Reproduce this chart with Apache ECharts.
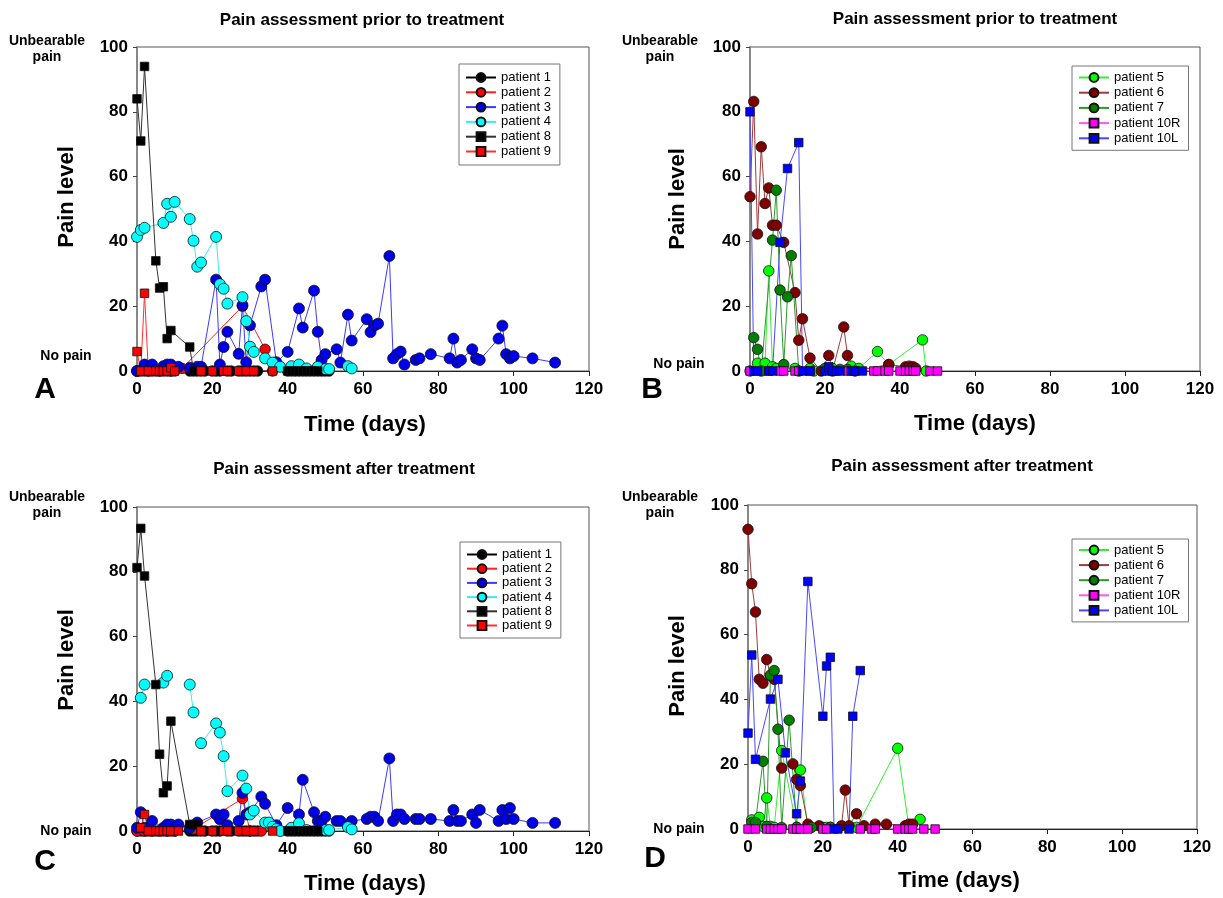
<!DOCTYPE html>
<html><head><meta charset="utf-8">
<script src="https://cdn.jsdelivr.net/npm/echarts@6/dist/echarts.min.js"></script>
<style>html,body{margin:0;padding:0;background:#fff}#c{width:1223px;height:898px}</style>
</head><body><div id="c"></div>
<script>
// ---------- Panel A: prior to treatment (patients 1,2,3,4,8,9) ----------
const A_p1 = [[0,0],[1,0],[2,0],[3,0],[4,0],[5,0],[6,0],[7,0],[8,0],[9,0],[10,0],[14,0],[15,0],[16,0],[17,0],[18,0],[20,0],[21,0],[22,0],[24,0],[25,0],[27,0],[28,0],[29,0],[30,0],[31,0],[32,0],[40,0],[41,0],[42,0],[43,0],[44,0],[45,0],[46,0],[47,0],[48,0],[49,0],[50,0],[51,0]];
const A_p2 = [[0,0],[3,0],[6,0],[9,0],[12,0.8],[28,20],[34,6.7],[36,0]];
const A_p3 = [[0,0],[2,2],[4,2],[7,1.5],[8,2],[9,2],[11,1.3],[14,1],[16,1.3],[17,1.3],[21,28.2],[22,2],[23,7.4],[24,12.1],[27,5.3],[28,20.3],[29,2.7],[30,14.1],[33,26.1],[34,28.2],[37,2.7],[40,5.9],[43,19.3],[44,13.4],[47,24.8],[48,12.1],[49,3.4],[50,5.2],[53,6.7],[54,2.6],[56,17.4],[57,9.4],[61,16],[62,12],[63,14],[64,14.6],[67,35.5],[68,3.9],[69,5.2],[70,6],[71,2],[74,3.4],[75,3.9],[78,5.2],[83,3.9],[84,10],[85,2.6],[86,3.4],[89,6.7],[90,3.9],[91,3.4],[96,10],[97,14],[98,5.2],[99,3.9],[100,4.6],[105,3.9],[111,2.6]];
const A_p4 = [[0,41.4],[1,43.5],[2,44.2],[7,45.7],[8,51.6],[9,47.6],[10,52.2],[14,46.9],[15,40.2],[16,32.2],[17,33.5],[21,41.4],[22,26.8],[23,25.4],[24,20.8],[28,22.8],[29,15.4],[30,7.5],[31,5.9],[34,3.9],[36,2.6],[38,1.3],[41,1.5],[43,2],[45,0.8],[48,1.3],[50,0.6],[51,0.6],[56,1.5],[57,0.8]];
const A_p8 = [[0,84],[1,71],[2,94],[5,34],[6,25.6],[7,26],[8,10],[9,12.5],[14,7.4],[15,0],[16,0],[17,0],[40,0],[41,0],[42,0],[43,0],[44,0],[45,0],[46,0],[47,0],[48,0]];
const A_p9 = [[0,6],[1,0],[2,24],[3,0],[5,0],[6,0],[7,0],[8,0],[9,1],[10,0],[17,0],[20,0],[23,0],[24,0],[27,0],[29,0],[31,0],[36,0]];

// ---------- Panel B: prior to treatment (patients 5,6,7,10R,10L) ----------
const B_p5 = [[0,0],[2,2.4],[4,2.4],[5,30.9],[6,1.3],[7,0.8],[12,0.8],[16,0.8],[17,0],[22,0.8],[27,1.5],[29,0.8],[34,6],[37,2],[46,9.6],[47,0]];
const B_p6 = [[0,53.8],[1,83.2],[2,42.3],[3,69.2],[4,51.7],[5,56.5],[6,45],[7,45],[9,39.7],[12,24.2],[13,9.5],[14,16.1],[16,4],[19,0],[21,4.8],[22,0],[25,13.6],[26,4.8],[28,0],[37,2],[41.5,1.3],[42.5,1.5],[43.5,1.3],[44.2,0.8]];
const B_p7 = [[1,10.3],[2,6.7],[3,0],[6,40.4],[7,55.8],[8,25],[9,2],[10,22.9],[11,35.6],[13,0],[20,0.8],[24,0.5],[26,0.5]];
const B_p10R = [[0,0],[5,0],[8,0],[9,0],[12,0],[13,0],[16,0],[26,0],[33,0],[34,0],[36,0],[37,0],[40,0],[41.5,0],[42.5,0],[43.5,0],[44.2,0],[48,0],[50,0]];
const B_p10L = [[0,80],[1,0],[2,0],[5,0],[6,0],[8,39.7],[10,62.5],[13,70.5],[14,0],[16,0],[20,0],[21,1.3],[22,0],[23,0],[24,0],[27,0],[28,0],[30,0]];

// ---------- Panel C: after treatment (patients 1,2,3,4,8,9) ----------
const C_p1 = [[0,0],[1,0],[2,0],[3,0],[4,0],[5,0],[6,0],[7,0],[8,0],[9,0],[10,0],[14,0],[15,0],[16,0],[17,0],[18,0],[20,0],[21,0],[22,0],[24,0],[25,0],[27,0],[28,0],[29,0],[30,0],[31,0],[32,0],[40,0],[41,0],[42,0],[43,0],[44,0],[45,0],[46,0],[47,0],[48,0],[49,0],[50,0],[51,0]];
const C_p2 = [[0,0],[2,0],[4,0],[6,0],[8,0],[10,0],[15,0.6],[28,10],[30,0],[33,0]];
const C_p3 = [[0,1],[1,5.8],[2,1],[4,3.1],[7,1],[8,2],[9,2],[11,2],[14,1],[16,2.6],[21,5.1],[22,3.6],[23,5.1],[24,1.8],[27,3.1],[28,11.8],[29,5.1],[30,5.8],[33,10.6],[34,8.4],[37,1.8],[40,7.1],[43,5.1],[44,15.8],[47,5.8],[48,3.1],[49,3.1],[50,4.4],[53,3.1],[54,3.1],[57,3.1],[61,3.7],[62,4.4],[63,4.4],[64,3.1],[67,22.4],[68,3.1],[69,5.1],[70,5.1],[71,3.7],[74,3.7],[75,3.7],[78,3.7],[83,3.1],[84,6.5],[85,3.1],[86,3.1],[89,5.1],[90,2.5],[91,6.5],[96,3.1],[97,6.5],[98,3.7],[99,7.1],[100,3.7],[105,2.5],[111,2.5]];
const C_p4 = [[1,41.1],[2,45.2],[7,45.8],[8,47.9],[11,null],[14,45.2],[15,36.6],[16,null],[17,27.1],[21,33.2],[22,30.4],[23,23.1],[24,12.3],[28,17.1],[29,13.1],[30,5.1],[31,6.3],[34,2.6],[35,2.6],[36,1.3],[37,0.6],[38,0],[41,1],[43,2.4],[45,0.3],[50,0.3],[51,0.3],[56,1.2],[57,0.5]];
const C_p8 = [[0,81.3],[1,93.4],[2,78.7],[5,45.2],[6,23.7],[7,11.8],[8,13.9],[9,33.9],[14,2],[15,2],[16,2],[17,0],[40,0],[41,0],[42,0],[43,0],[44,0],[45,0],[46,0],[47,0],[48,0]];
const C_p9 = [[1,1],[2,5.1],[3,0],[5,0],[6,0],[7,0],[8,0],[9,0],[11,0],[17,0],[20,0],[23,0],[24,0],[27,0],[29,0],[31,0],[36,0]];

// ---------- Panel D: after treatment (patients 5,6,7,10R,10L) ----------
const D_p5 = [[1,2.8],[3,3.6],[4,0.8],[5,9.6],[6,0.8],[7,0.5],[9,24.2],[13,0.5],[14,18.2],[16,0.5],[20,0.5],[21,0.5],[22,0.5],[29,0.5],[40,24.9],[43,0.5],[46,3]];
const D_p6 = [[0,92.5],[1,75.7],[2,67],[3,46.2],[4,45],[5,52.3],[6,47.3],[7,46.2],[9,18.8],[12,20.1],[13,15.3],[14,13.4],[16,1.5],[19,1],[25,1],[26,12],[27,1],[29,4.7],[31,1],[34,1.5],[37,1.5],[42,1],[43,1.5],[44,1.5]];
const D_p7 = [[1,2],[2,2],[4,20.9],[5,0.8],[6,47.5],[7,48.9],[8,30.8],[9,0.5],[11,33.6],[13,0.5],[17,0.5],[22,0.5]];
const D_p10R = [[0,0],[2,0],[5,0],[6,0],[7,0],[8,0],[9,0],[12,0],[13,0],[14,0],[16,0],[20,0],[21,0],[30,0],[33,0],[34,0],[40,0],[42,0],[43,0],[44,0],[47,0],[50,0]];
const D_p10L = [[0,29.6],[1,53.7],[2,21.5],[6,40.1],[8,46.2],[10,23.5],[13,4.7],[14,14.8],[16,76.4],[20,34.8],[21,50.3],[22,53],[23,0],[24,0],[27,0],[28,34.8],[30,48.9]];

const legendLeft = ['patient 1','patient 2','patient 3','patient 4','patient 8','patient 9'];
const legendRight = ['patient 5','patient 6','patient 7','patient 10R','patient 10L'];
const titles = ['Pain assessment prior to treatment','Pain assessment prior to treatment','Pain assessment after treatment','Pain assessment after treatment'];
const letters = ['A','B','C','D'];

const FONT = 'Arial, "Liberation Sans", sans-serif';

// style per patient: [fill, line, symbol, size]
const STY = {
  'patient 1': ['#000000', '#000000', 'circle', 10.5],
  'patient 2': ['#ff0000', '#ff2020', 'circle', 10.5],
  'patient 3': ['#0000e8', '#3a3aff', 'circle', 11],
  'patient 4': ['#00ffff', '#30f0f0', 'circle', 11],
  'patient 8': ['#000000', '#333333', 'rect', 8.5],
  'patient 9': ['#ff0000', '#ff3030', 'rect', 8.5],
  'patient 5': ['#00ff00', '#33ee33', 'circle', 10.5],
  'patient 6': ['#800000', '#a03a3a', 'circle', 10.5],
  'patient 7': ['#008000', '#2a9a2a', 'circle', 10.5],
  'patient 10R': ['#ff00ff', '#ff55ff', 'rect', 8.5],
  'patient 10L': ['#0000ff', '#4848ff', 'rect', 8.5]
};

function ser(name, data, idx) {
  const s = STY[name];
  return {
    type: 'line', name: name, xAxisIndex: idx, yAxisIndex: idx,
    data: data.map(p => [p[0], p[1] == null ? '-' : p[1]]),
    symbol: s[2], symbolSize: s[3], showSymbol: true, connectNulls: false,
    itemStyle: { color: s[0], borderColor: '#111', borderWidth: 0.8 },
    lineStyle: { color: s[1], width: 1 },
    emphasis: { disabled: true }, animation: false, z: 3
  };
}

const grids = [
  { left: 137, top: 47, width: 452, height: 324 },
  { left: 750, top: 47, width: 450, height: 324 },
  { left: 137, top: 507, width: 452, height: 324 },
  { left: 748, top: 505, width: 449, height: 324 }
].map(g => Object.assign({ show: true, borderColor: '#555', borderWidth: 1, backgroundColor: 'transparent' }, g));

const xAxes = [0,1,2,3].map(i => ({
  type: 'value', gridIndex: i, min: 0, max: 120, interval: 20,
  axisLine: { show: true, lineStyle: { color: '#222', width: 1.2 } },
  axisTick: { show: true, inside: false, length: 5, lineStyle: { color: '#222' } },
  axisLabel: { fontSize: 17, fontWeight: 'bold', color: '#000', margin: 10, fontFamily: FONT },
  splitLine: { show: false }
}));
const yAxes = [0,1,2,3].map(i => ({
  type: 'value', gridIndex: i, min: 0, max: 100, interval: 20,
  axisLine: { show: true, lineStyle: { color: '#888', width: 2 } },
  axisTick: { show: true, inside: false, length: 4, lineStyle: { color: '#444' } },
  axisLabel: { fontSize: 17, fontWeight: 'bold', color: '#000', margin: 9, fontFamily: FONT },
  splitLine: { show: false }
}));

const series = [
  ser('patient 1', A_p1, 0), ser('patient 2', A_p2, 0), ser('patient 3', A_p3, 0),
  ser('patient 4', A_p4, 0), ser('patient 8', A_p8, 0), ser('patient 9', A_p9, 0),
  ser('patient 5', B_p5, 1), ser('patient 6', B_p6, 1), ser('patient 7', B_p7, 1),
  ser('patient 10R', B_p10R, 1), ser('patient 10L', B_p10L, 1),
  ser('patient 1', C_p1, 2), ser('patient 2', C_p2, 2), ser('patient 3', C_p3, 2),
  ser('patient 4', C_p4, 2), ser('patient 8', C_p8, 2), ser('patient 9', C_p9, 2),
  ser('patient 5', D_p5, 3), ser('patient 6', D_p6, 3), ser('patient 7', D_p7, 3),
  ser('patient 10R', D_p10R, 3), ser('patient 10L', D_p10L, 3)
];

function legend(names, left, top, gap, pad) {
  return {
    data: names.map(n => ({ name: n })), orient: 'vertical', left: left, top: top,
    itemWidth: 30, itemHeight: 11, itemGap: gap, padding: pad,
    borderColor: '#777', borderWidth: 1, backgroundColor: '#fff',
    textStyle: { fontSize: 13, color: '#000', fontFamily: FONT, lineHeight: 11 },
    selectedMode: false, z: 10
  };
}
const legends = [
  legend(legendLeft, 459, 64, 1.8, [7, 9, 7, 6]),
  legend(legendRight, 1072, 66, 2.2, [5, 8, 5.5, 6]),
  legend(legendLeft, 460, 542, 1.2, [6, 9, 6, 6]),
  legend(legendRight, 1072, 539, 2.1, [4.5, 8, 5, 6])
];

function txt(text, x, y, size, opts) {
  return Object.assign({
    type: 'text', x: x, y: y, silent: true, z: 20,
    style: { text: text, font: 'bold ' + size + 'px ' + FONT, fill: '#000',
      textAlign: 'center', textVerticalAlign: 'middle', lineHeight: size + 2 }
  }, opts || {});
}

const panelText = [
  { title: [362, 20], xname: [365, 425], yname: [67, 197], ub: [47, 49], no: [66, 356], letter: [45, 390] },
  { title: [975, 19], xname: [975, 424], yname: [678, 199], ub: [660, 49], no: [679, 364], letter: [652, 390] },
  { title: [344, 469], xname: [365, 884], yname: [67, 660], ub: [47, 505], no: [66, 831], letter: [45, 862] },
  { title: [962, 466], xname: [959, 881], yname: [678, 666], ub: [660, 505], no: [679, 829], letter: [655, 859] }
];
const graphics = [];
panelText.forEach((p, i) => {
  graphics.push(txt(titles[i], p.title[0], p.title[1], 17));
  graphics.push(txt('Time (days)', p.xname[0], p.xname[1], 22));
  graphics.push(txt('Pain level', p.yname[0], p.yname[1], 22, { rotation: Math.PI / 2 }));
  graphics.push(txt('Unbearable\npain', p.ub[0], p.ub[1], 14));
  graphics.push(txt('No pain', p.no[0], p.no[1], 14));
  graphics.push(txt(letters[i], p.letter[0], p.letter[1], 30));
});

const chart = echarts.init(document.getElementById('c'), null, { renderer: 'canvas' });
chart.setOption({
  animation: false,
  backgroundColor: '#fff',
  grid: grids, xAxis: xAxes, yAxis: yAxes,
  legend: legends, series: series, graphic: graphics
});
</script>
</body></html>
